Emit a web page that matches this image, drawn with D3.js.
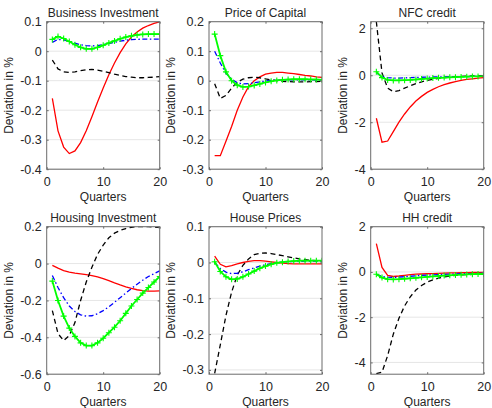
<!doctype html>
<html>
  <head>
    <script src="https://cdnjs.cloudflare.com/ajax/libs/d3/7.8.5/d3.min.js"></script>
    <style>
      body { margin: 0; background: #fff; }
      text { font-family: "Liberation Sans", Arial, sans-serif; fill: #262626; }
      .grid line { stroke: #e6e6e6; stroke-width: 1; }
      .frame { fill: none; stroke: #6b6b6b; stroke-width: 1; }
      path.red { fill: none; stroke: #ff0000; stroke-width: 1.3; }
      path.blue { fill: none; stroke: #0000ff; stroke-width: 1.3; stroke-dasharray: 5 2.5 1.5 2.5; }
      path.black { fill: none; stroke: #000; stroke-width: 1.3; stroke-dasharray: 5 3.5; }
      path.green { fill: none; stroke: #00ff00; stroke-width: 1.8; }
      path.plus { fill: none; stroke: #00ff00; stroke-width: 1.1; }
    </style>
  </head>
  <body>
    <svg width="492" height="408"></svg>
    <script>
      // quarters after the shock
      var quarters = [1,2,3,4,5,6,7,8,9,10,11,12,13,14,15,16,17,18,19,20];
      var xTicks = [0, 10, 20];

      var titles = ["Business Investment", "Price of Capital", "NFC credit",
                    "Housing Investment", "House Prices", "HH credit"];
      var yDomains = [[-0.4, 0.1], [-0.3, 0.2], [-4, 2.28], [-0.6, 0.2], [-0.312, 0.1], [-4.52, 2]];
      var yTicks = [
        [0.1, 0, -0.1, -0.2, -0.3, -0.4],
        [0.2, 0.1, 0, -0.1, -0.2, -0.3],
        [2, 0, -2, -4],
        [0.2, 0, -0.2, -0.4, -0.6],
        [0.1, 0, -0.1, -0.2, -0.3],
        [2, 0, -2, -4]
      ];

      // Business Investment
      var bizRed   = [-0.16,-0.27,-0.325,-0.347,-0.338,-0.31,-0.27,-0.222,-0.172,-0.125,-0.08,-0.04,-0.005,0.025,0.048,0.065,0.078,0.087,0.094,0.099];
      var bizBlack = [-0.03,-0.06,-0.07,-0.072,-0.07,-0.066,-0.063,-0.062,-0.064,-0.068,-0.073,-0.078,-0.082,-0.086,-0.088,-0.09,-0.09,-0.089,-0.088,-0.086];
      var bizBlue  = [0.03,0.04,0.038,0.033,0.027,0.022,0.019,0.018,0.019,0.022,0.026,0.03,0.034,0.037,0.039,0.04,0.041,0.041,0.041,0.041];
      var bizGreen = [0.04,0.05,0.043,0.033,0.022,0.013,0.008,0.008,0.013,0.02,0.028,0.035,0.042,0.048,0.052,0.055,0.057,0.058,0.058,0.058];

      // Price of Capital
      var pkRed   = [-0.254,-0.254,-0.205,-0.155,-0.1,-0.055,-0.02,0.0,0.013,0.022,0.026,0.028,0.028,0.026,0.024,0.021,0.018,0.016,0.013,0.011];
      var pkBlack = [-0.01,-0.06,-0.05,-0.025,-0.005,0.005,0.01,0.012,0.01,0.006,0.003,0.0,-0.002,-0.003,-0.004,-0.004,-0.004,-0.003,-0.003,-0.002];
      var pkBlue  = [0.1,0.06,0.025,0.005,-0.007,-0.011,-0.01,-0.007,-0.004,-0.001,0.001,0.002,0.003,0.003,0.003,0.003,0.003,0.003,0.002,0.002];
      var pkGreen = [0.158,0.085,0.03,0.0,-0.015,-0.021,-0.02,-0.016,-0.011,-0.006,-0.002,0.001,0.003,0.004,0.005,0.005,0.005,0.004,0.004,0.003];

      // NFC credit
      var nfcRed   = [-1.83,-2.85,-2.8,-2.4,-2.0,-1.65,-1.35,-1.1,-0.9,-0.73,-0.6,-0.49,-0.4,-0.33,-0.27,-0.22,-0.18,-0.15,-0.12,-0.1];
      var nfcBlack = [2.28,0.1,-0.55,-0.7,-0.65,-0.55,-0.45,-0.36,-0.28,-0.22,-0.17,-0.13,-0.1,-0.08,-0.06,-0.05,-0.04,-0.03,-0.03,-0.02];
      var nfcBlue  = [0.1,-0.05,-0.1,-0.12,-0.12,-0.11,-0.1,-0.09,-0.085,-0.08,-0.075,-0.07,-0.065,-0.06,-0.06,-0.055,-0.055,-0.05,-0.05,-0.05];
      var nfcGreen = [0.15,-0.1,-0.2,-0.22,-0.22,-0.21,-0.2,-0.18,-0.16,-0.14,-0.12,-0.11,-0.1,-0.09,-0.08,-0.07,-0.06,-0.05,-0.05,-0.04];

      // Housing Investment
      var hiRed   = [-0.01,-0.025,-0.038,-0.046,-0.052,-0.056,-0.06,-0.065,-0.072,-0.082,-0.093,-0.105,-0.116,-0.126,-0.135,-0.142,-0.147,-0.149,-0.149,-0.148];
      var hiBlack = [-0.255,-0.38,-0.418,-0.39,-0.32,-0.2,-0.1,-0.02,0.05,0.1,0.14,0.165,0.18,0.19,0.197,0.2,0.2,0.2,0.198,0.195];
      var hiBlue  = [-0.065,-0.13,-0.185,-0.23,-0.26,-0.278,-0.285,-0.283,-0.272,-0.255,-0.235,-0.21,-0.185,-0.16,-0.135,-0.112,-0.09,-0.07,-0.055,-0.04];
      var hiGreen = [-0.095,-0.2,-0.285,-0.35,-0.395,-0.43,-0.445,-0.445,-0.43,-0.405,-0.375,-0.345,-0.31,-0.27,-0.23,-0.195,-0.16,-0.13,-0.1,-0.07];

      // House Prices
      var hpRed   = [0.018,-0.005,-0.012,-0.009,-0.004,0.0,0.003,0.005,0.005,0.004,0.002,0.0,-0.002,-0.003,-0.004,-0.004,-0.004,-0.004,-0.004,-0.004];
      var hpBlack = [-0.31,-0.23,-0.148,-0.083,-0.035,-0.008,0.01,0.022,0.026,0.027,0.025,0.022,0.019,0.016,0.013,0.01,0.008,0.006,0.005,0.004];
      var hpBlue  = [0.0,-0.017,-0.027,-0.031,-0.03,-0.026,-0.02,-0.015,-0.01,-0.006,-0.003,-0.001,0.001,0.002,0.003,0.003,0.004,0.004,0.004,0.004];
      var hpGreen = [0.002,-0.025,-0.04,-0.047,-0.046,-0.04,-0.032,-0.024,-0.016,-0.01,-0.005,-0.001,0.001,0.003,0.004,0.005,0.005,0.005,0.005,0.005];

      // HH credit
      var hhRed   = [1.25,0.2,-0.15,-0.2,-0.18,-0.15,-0.12,-0.1,-0.09,-0.08,-0.07,-0.06,-0.05,-0.045,-0.04,-0.035,-0.03,-0.025,-0.02,-0.02];
      var hhBlack = [-4.5,-4.43,-3.7,-2.75,-2.05,-1.5,-1.1,-0.8,-0.6,-0.45,-0.35,-0.27,-0.22,-0.18,-0.15,-0.13,-0.12,-0.11,-0.1,-0.1];
      var hhBlue  = [-0.1,-0.2,-0.23,-0.24,-0.23,-0.21,-0.19,-0.17,-0.15,-0.14,-0.13,-0.12,-0.11,-0.1,-0.09,-0.08,-0.075,-0.07,-0.065,-0.06];
      var hhGreen = [-0.1,-0.25,-0.32,-0.33,-0.32,-0.3,-0.28,-0.26,-0.24,-0.22,-0.2,-0.18,-0.16,-0.15,-0.13,-0.12,-0.11,-0.1,-0.09,-0.09];

      var seriesByPanel = [
        [bizRed, bizBlack, bizBlue, bizGreen],
        [pkRed, pkBlack, pkBlue, pkGreen],
        [nfcRed, nfcBlack, nfcBlue, nfcGreen],
        [hiRed, hiBlack, hiBlue, hiGreen],
        [hpRed, hpBlack, hpBlue, hpGreen],
        [hhRed, hhBlack, hhBlue, hhGreen]
      ];
      var seriesClass = ["red", "black", "blue", "green"];

      // panel boxes (left, top)
      var colX = [46.7, 209, 370.7];
      var rowY = [21.7, 226.7];
      var pw = 113, ph = 147.5;

      var svg = d3.select("svg");

      titles.forEach(function(title, i) {
        var left = colX[i % 3], top = rowY[Math.floor(i / 3)];
        var g = svg.append("g").attr("transform", "translate(" + left + "," + top + ")");

        var x = d3.scaleLinear().domain([0, 20]).range([0, pw]);
        var y = d3.scaleLinear().domain(yDomains[i]).range([ph, 0]);

        // horizontal grid
        g.append("g").attr("class", "grid")
          .selectAll("line").data(yTicks[i]).enter().append("line")
            .attr("x1", 0).attr("x2", pw)
            .attr("y1", d => y(d)).attr("y2", d => y(d));

        var clip = "clip" + i;
        g.append("clipPath").attr("id", clip)
          .append("rect").attr("width", pw).attr("height", ph);
        var plot = g.append("g").attr("clip-path", "url(#" + clip + ")");

        var line = d3.line().x((d, k) => x(quarters[k])).y(d => y(d));
        seriesByPanel[i].forEach(function(vals, s) {
          plot.append("path").attr("class", seriesClass[s]).attr("d", line(vals));
        });
        // green + markers
        var gv = seriesByPanel[i][3];
        plot.append("path").attr("class", "plus")
          .attr("d", gv.map(function(v, k) {
            var cx = x(quarters[k]), cy = y(v);
            return "M" + (cx - 3) + "," + cy + "H" + (cx + 3) + "M" + cx + "," + (cy - 3) + "V" + (cy + 3);
          }).join(""));

        // axes
        var yAxis = d3.axisLeft(y).tickValues(yTicks[i]).tickSize(-2).tickPadding(5)
          .tickFormat(d => String(+d.toFixed(2)));
        var gy = g.append("g").call(yAxis);
        var gyR = g.append("g").attr("transform", "translate(" + pw + ",0)")
          .call(d3.axisRight(y).tickValues(yTicks[i]).tickSize(-2).tickFormat(""));
        var xAxis = d3.axisBottom(x).tickValues(xTicks).tickSize(-2).tickPadding(8);
        var gx = g.append("g").attr("transform", "translate(0," + ph + ")").call(xAxis);
        var gxT = g.append("g").call(d3.axisTop(x).tickValues(xTicks).tickSize(-2).tickFormat(""));

        [gy, gyR, gx, gxT].forEach(function(a) {
          a.select(".domain").remove();
          a.selectAll("line").attr("stroke", "#6b6b6b");
          a.selectAll("text").style("font-size", "12.5px").attr("fill", "#262626")
            .style("font-family", "'Liberation Sans', Arial, sans-serif");
        });

        g.append("rect").attr("class", "frame").attr("width", pw).attr("height", ph);

        g.append("text").attr("x", pw / 2).attr("y", -5)
          .attr("text-anchor", "middle").style("font-size", "12px").text(title);
        g.append("text").attr("x", pw / 2).attr("y", ph + 32)
          .attr("text-anchor", "middle").style("font-size", "12px").text("Quarters");

        var labelX = (i % 3 === 2) ? -24 : -34;
        g.append("text")
          .attr("transform", "translate(" + labelX + "," + (ph / 2) + ") rotate(-90)")
          .attr("text-anchor", "middle").style("font-size", "12px").text("Deviation in %");
      });
    </script>
  </body>
</html>
